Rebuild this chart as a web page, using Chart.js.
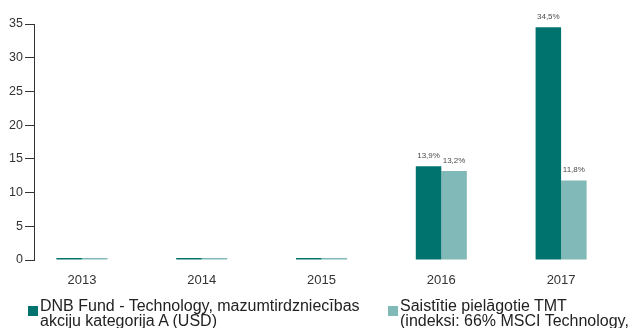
<!DOCTYPE html>
<html>
<head>
<meta charset="utf-8">
<script src="https://cdn.jsdelivr.net/npm/chart.js@4.4.1/dist/chart.umd.min.js"></script>
<style>
    html, body {
        margin: 0;
        padding: 0;
        background: #ffffff;
        overflow: hidden;
    }
    #wrap {
        position: relative;
        width: 633px;
        height: 328px;
        overflow: hidden;
    }
    #myChart {
        position: absolute;
        left: 0;
        top: 0;
    }
    .legend-item {
        position: absolute;
        top: 298px;
        font-family: "Liberation Sans", Arial, sans-serif;
        font-size: 16px;
        line-height: 15px;
        color: #222;
        white-space: nowrap;
    }
    .legend-box {
        position: absolute;
        top: 8px;
        width: 10px;
        height: 10px;
    }
</style>
</head>
<body>
<div id="wrap">
    <canvas id="myChart" width="633" height="300"></canvas>
    <div id="legend"></div>
</div>
<script>
// 年份與數值 (%)
const years = [2013, 2014, 2015, 2016, 2017];
const fundValues = [0, 0, 0, 13.9, 34.5];
const indexValues = [0, 0, 0, 13.2, 11.8];
const yTicks = [0, 5, 10, 15, 20, 25, 30, 35];

const fundLabel = ['DNB Fund - Technology, mazumtirdzniecības', 'akciju kategorija A (USD)'];
const indexLabel = ['Saistītie pielāgotie TMT', '(indeksi: 66% MSCI Technology,'];

const darkColor = '#00736f';
const lightColor = '#80b9b7';

// 把年份和數值組成 {x, y}
function toPoints(values) {
    return years.map((y, i) => ({ x: y, y: values[i] }));
}

// 在柱子上方寫百分比
const valueLabels = {
    id: 'valueLabels',
    afterDatasetsDraw(chart) {
        const ctx = chart.ctx;
        ctx.save();
        ctx.font = '8px "Liberation Sans", Arial, sans-serif';
        ctx.fillStyle = '#4a4a4a';
        ctx.textAlign = 'center';
        ctx.textBaseline = 'middle';
        chart.data.datasets.forEach((ds, di) => {
            chart.getDatasetMeta(di).data.forEach((bar, i) => {
                const v = ds.data[i].y;
                if (!v) return;
                ctx.fillText(v.toFixed(1).replace('.', ',') + '%', bar.x, bar.y - 10.5);
            });
        });
        ctx.restore();
    }
};

let ctx = document.getElementById('myChart').getContext('2d');
window.myChart = new Chart(ctx, {
    type: 'bar',
    data: {
        datasets: [
            {
                label: fundLabel.join(' '),
                data: toPoints(fundValues),
                backgroundColor: darkColor
            },
            {
                label: indexLabel.join(' '),
                data: toPoints(indexValues),
                backgroundColor: lightColor
            }
        ]
    },
    options: {
        responsive: false,
        devicePixelRatio: 1,
        animation: false,
        layout: {
            padding: { top: 24, right: 12, bottom: 0, left: 0 }
        },
        datasets: {
            bar: {
                categoryPercentage: 0.426,
                barPercentage: 1,
                minBarLength: 2,
                borderWidth: 0
            }
        },
        plugins: {
            legend: { display: false },
            tooltip: { enabled: false }
        },
        scales: {
            x: {
                type: 'linear',
                offset: false,
                min: 2012.6,
                max: 2017.5,
                afterBuildTicks: axis => {
                    axis.ticks = years.map(v => ({ value: v }));
                },
                afterFit: scale => {
                    scale.height = 40;
                },
                ticks: {
                    color: '#333',
                    padding: 13,
                    font: { family: '"Liberation Sans", Arial, sans-serif', size: 13 },
                    callback: v => String(v)
                },
                grid: { display: false, drawTicks: false, offset: false },
                border: { display: false }
            },
            y: {
                min: 0,
                max: 35,
                afterBuildTicks: axis => {
                    axis.ticks = yTicks.map(v => ({ value: v }));
                },
                afterFit: scale => {
                    scale.width = 34;
                },
                ticks: {
                    color: '#333',
                    padding: 2,
                    font: { family: '"Liberation Sans", Arial, sans-serif', size: 12.5 }
                },
                grid: {
                    drawOnChartArea: false,
                    drawTicks: true,
                    tickLength: 9,
                    color: '#333'
                },
                border: { display: true, color: '#333', width: 1 }
            }
        }
    },
    plugins: [valueLabels]
});

// 自製圖例 (兩欄, 手動換行)
const legendEl = document.getElementById('legend');
const legendItems = [
    { lines: fundLabel, color: darkColor, left: 28 },
    { lines: indexLabel, color: lightColor, left: 388 }
];
legendItems.forEach(item => {
    const div = document.createElement('div');
    div.className = 'legend-item';
    div.style.left = item.left + 'px';
    div.innerHTML = '<span class="legend-box" style="left:0;background:' + item.color + '"></span>' +
        '<div style="margin-left:12px">' + item.lines.join('<br>') + '</div>';
    legendEl.appendChild(div);
});
</script>
</body>
</html>
